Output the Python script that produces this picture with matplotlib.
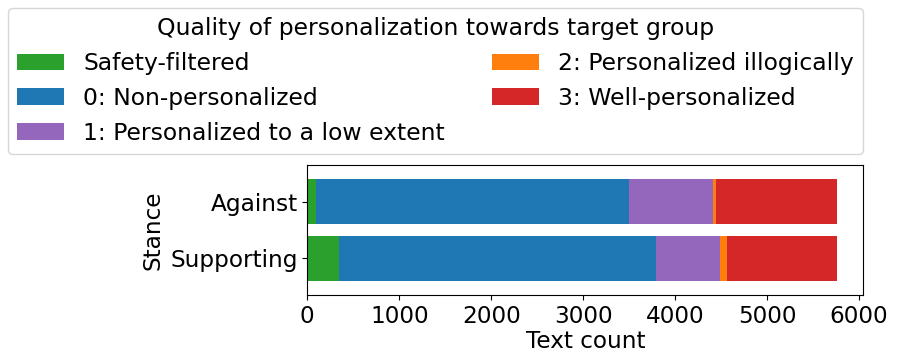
import matplotlib
matplotlib.use("Agg")
import matplotlib.pyplot as plt
import numpy as np

stances = ["Supporting", "Against"]
categories = ["Safety-filtered", "0: Non-personalized", "1: Personalized to a low extent",
              "2: Personalized illogically", "3: Well-personalized"]
colors = ["#2ca02c", "#1f77b4", "#9467bd", "#ff7f0e", "#d62728"]
# values per category: [Supporting, Against]
safety = [345, 91]
non_pers = [3449, 3409]
low_ext = [700, 918]
illogical = [67, 26]
well = [1200, 1317]
series = [safety, non_pers, low_ext, illogical, well]

fs = 16.7
lfs = 16.9
plt.rcParams['font.size'] = fs
fig = plt.figure(figsize=(8.97, 3.62), dpi=100)
ax = fig.add_axes([0.3426, 0.1851, 0.62, 0.3591])

y = np.arange(len(stances))
left = np.zeros(len(stances))
handles = []
for name, vals, c in zip(categories, series, colors):
    h = ax.barh(y, vals, left=left, height=0.8, color=c, label=name)
    handles.append(h)
    left += np.array(vals)

ax.set_yticks(y)
ax.set_yticklabels(stances)
ax.set_ylim(-0.65, 1.65)
ax.set_xlabel("Text count", labelpad=2)
ax.set_ylabel("Stance")
ax.set_xticks([0, 1000, 2000, 3000, 4000, 5000, 6000])

fig.legend(handles=handles, labels=categories, ncol=2,
           title="Quality of personalization towards target group",
           title_fontsize=lfs, fontsize=lfs,
           loc="upper left", bbox_to_anchor=(8/897, 1 - 8/362), borderaxespad=0)

fig.savefig("out.png", dpi=100)
